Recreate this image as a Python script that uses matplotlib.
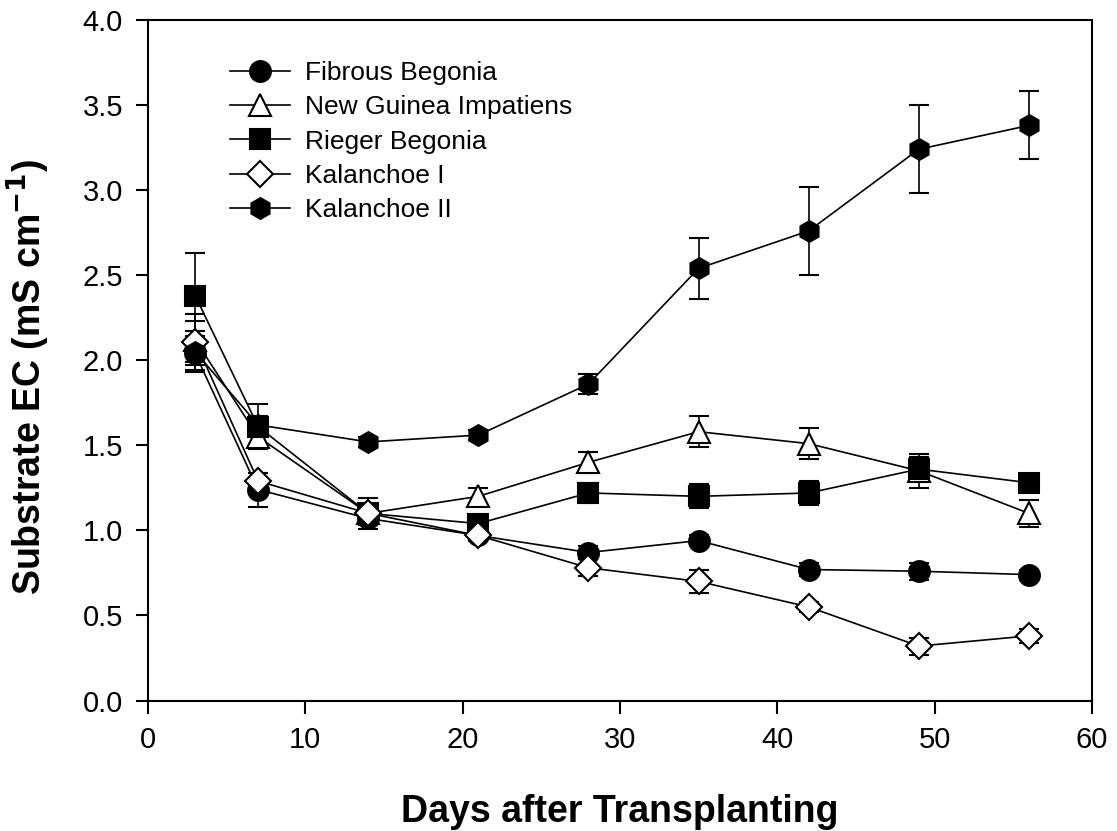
"""
Substrate EC over days after transplanting, five crops
"""

import matplotlib
matplotlib.use('Agg')
import matplotlib.pyplot as plt
from matplotlib.lines import Line2D

plt.rcParams['font.family'] = ['Liberation Sans', 'DejaVu Sans']

days = [3, 7, 14, 21, 28, 35, 42, 49, 56]

fibrous_begonia = [2.04, 1.24, 1.07, 0.97, 0.87, 0.94, 0.77, 0.76, 0.74]
fibrous_begonia_err = [0.10, 0.10, 0.04, 0.03, 0.04, 0.03, 0.04, 0.05, 0.03]

ng_impatiens = [2.12, 1.55, 1.10, 1.20, 1.40, 1.58, 1.51, 1.35, 1.10]
ng_impatiens_err = [0.15, 0.05, 0.05, 0.05, 0.06, 0.09, 0.09, 0.10, 0.08]

rieger_begonia = [2.38, 1.61, 1.10, 1.04, 1.22, 1.20, 1.22, 1.36, 1.28]
rieger_begonia_err = [0.25, 0.13, 0.09, 0.05, 0.06, 0.07, 0.07, 0.07, 0.03]

kalanchoe_1 = [2.11, 1.29, 1.10, 0.97, 0.78, 0.70, 0.55, 0.32, 0.38]
kalanchoe_1_err = [0.12, 0.05, 0.04, 0.03, 0.05, 0.07, 0.03, 0.05, 0.04]

kalanchoe_2 = [2.05, 1.62, 1.52, 1.56, 1.86, 2.54, 2.76, 3.24, 3.38]
kalanchoe_2_err = [0.12, 0.05, 0.03, 0.03, 0.06, 0.18, 0.26, 0.26, 0.20]

labels = ['Fibrous Begonia', 'New Guinea Impatiens', 'Rieger Begonia',
          'Kalanchoe I', 'Kalanchoe II']

# marker, face colour, marker size
series = [
    (fibrous_begonia, fibrous_begonia_err, 'o', 'black', 15),
    (ng_impatiens, ng_impatiens_err, '^', 'white', 16),
    (rieger_begonia, rieger_begonia_err, 's', 'black', 14),
    (kalanchoe_1, kalanchoe_1_err, 'D', 'white', 13),
    (kalanchoe_2, kalanchoe_2_err, 'h', 'black', 15),
]

fig = plt.figure(figsize=(11.17, 8.31), dpi=100)
ax = fig.add_axes([0.1325, 0.157, 0.845, 0.819])

handles = []
for (vals, err, mk, face, ms), lab in zip(series, labels):
    ax.errorbar(days, vals, yerr=err, color='black', linewidth=1.2,
                marker=mk, markersize=ms, markerfacecolor=face,
                markeredgecolor='black', markeredgewidth=1.5,
                ecolor='black', elinewidth=1.2, capsize=7, capthick=1.2)
    handles.append(Line2D([], [], color='black', linewidth=1.2, marker=mk,
                          markersize=ms, markerfacecolor=face,
                          markeredgecolor='black', markeredgewidth=1.5, label=lab))

ax.set_xlim(0, 60)
ax.set_ylim(0, 4.0)
ax.set_xticks(range(0, 61, 10))
ax.set_yticks([i * 0.5 for i in range(9)])
ax.set_yticklabels(['{:.1f}'.format(i * 0.5) for i in range(9)])
ax.tick_params(direction='out', length=9, width=1.5, labelsize=21, pad=9)
for sp in ax.spines.values():
    sp.set_linewidth(1.5)

ax.set_xlabel('Days after Transplanting', fontsize=27, fontweight='bold', labelpad=29)
ax.set_ylabel('Substrate EC (mS cm$^{\\mathbf{-1}}$)', fontsize=27, fontweight='bold', labelpad=17)
ax.yaxis.set_label_coords(-0.102, 0.475)

ax.legend(handles=handles, loc='upper left', bbox_to_anchor=(0.076, 0.955),
          frameon=False, fontsize=19, handlelength=2.27, handletextpad=0.57,
          labelspacing=0.39, borderaxespad=0)

plt.savefig('out.png', dpi=100)
plt.close()
